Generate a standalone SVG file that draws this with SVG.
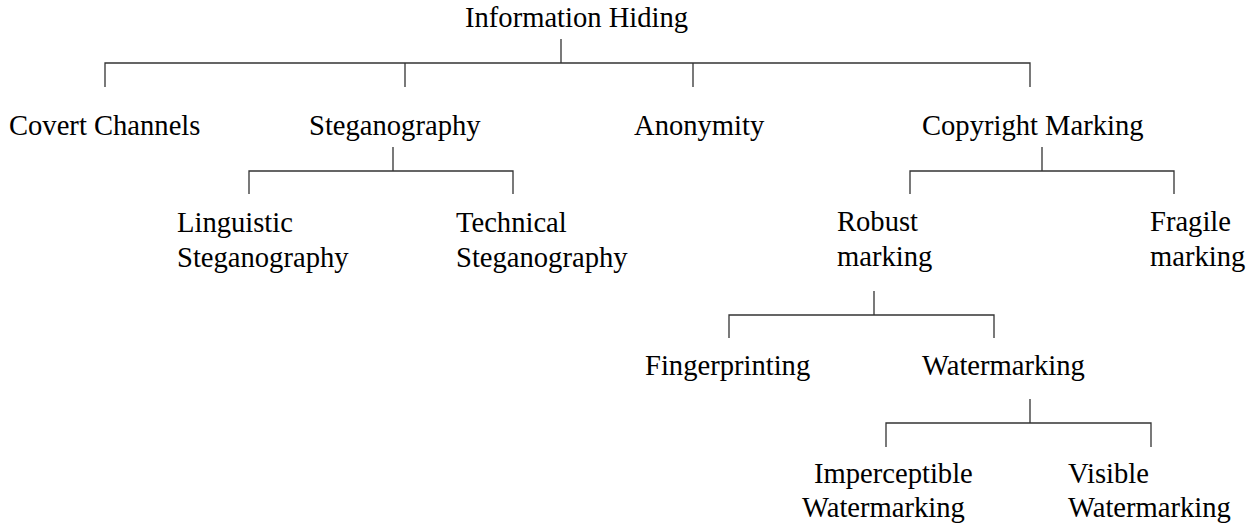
<svg xmlns="http://www.w3.org/2000/svg" width="1258" height="526" viewBox="0 0 1258 526">
<style>
text{font-family:"Liberation Serif","Times New Roman",serif;font-size:28.6px;fill:#000}
.c line,.c path{stroke:#333;stroke-width:1.3;fill:none}
</style>
<rect width="1258" height="526" fill="#fff"/>
<g class="c" id="connectors">
<path d="M561 39V63M105 87V63H1030V87M405 63V87M693 63V87"/>
<path d="M393 147V171M249 194V171H513V194"/>
<path d="M1042 147V171M910 194V171H1174V194"/>
<path d="M874 291V315M729 338V315H994V338"/>
<path d="M1030 399V423M886 447V423H1151V447"/>
</g>
<g id="n-info"><text x="465" y="27">Information Hiding</text></g>
<g id="n-covert"><text x="9" y="135">Covert Channels</text></g>
<g id="n-stego"><text x="309" y="135">Steganography</text></g>
<g id="n-anon"><text x="634" y="135">Anonymity</text></g>
<g id="n-copy"><text x="922" y="135">Copyright Marking</text></g>
<g id="n-ling"><text x="177" y="232">Linguistic</text><text x="177" y="267">Steganography</text></g>
<g id="n-tech"><text x="456" y="232">Technical</text><text x="456" y="267">Steganography</text></g>
<g id="n-robust"><text x="837" y="231">Robust</text><text x="837" y="266">marking</text></g>
<g id="n-fragile"><text x="1150" y="231">Fragile</text><text x="1150" y="266">marking</text></g>
<g id="n-finger"><text x="645" y="375">Fingerprinting</text></g>
<g id="n-water"><text x="922" y="375">Watermarking</text></g>
<g id="n-imperc"><text x="814" y="483">Imperceptible</text><text x="802" y="517">Watermarking</text></g>
<g id="n-visible"><text x="1068" y="483">Visible</text><text x="1068" y="517">Watermarking</text></g>
</svg>
